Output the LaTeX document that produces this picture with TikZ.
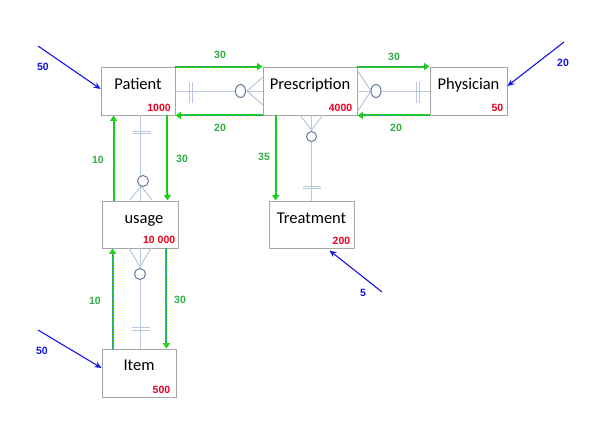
\documentclass[tikz,border=0pt]{standalone}
\usepackage{fontspec}
\setmainfont{Carlito}
\newfontfamily\numfont{Liberation Sans}
\usetikzlibrary{arrows.meta,calc}
\definecolor{boxgray}{RGB}{165,165,165}
\definecolor{numred}{RGB}{235,0,30}
\definecolor{flowgreen}{RGB}{30,210,30}
\definecolor{flowdot}{RGB}{60,100,210}
\definecolor{lblgreen}{RGB}{45,175,65}
\definecolor{inblue}{RGB}{20,20,230}
\definecolor{erline}{RGB}{185,200,222}
\definecolor{ercirc}{RGB}{100,120,155}
\tikzset{
  entity/.style={draw=boxgray, line width=0.9pt, fill=white, minimum height=48pt, inner sep=0pt},
  ename/.style={font=\fontsize{16.5}{16.5}\selectfont, inner sep=0pt, anchor=base},
  ecount/.style={font=\numfont\bfseries\fontsize{10.5}{10.5}\selectfont, text=numred, inner sep=0pt, anchor=base east},
  flow/.style={draw=flowgreen, line width=2pt, -{Triangle[length=5.5pt,width=7pt]},
    postaction={draw=flowdot, line width=0.7pt, dash pattern=on 0.7pt off 2.2pt, -, shorten >=5pt}},
  flowlbl/.style={font=\numfont\bfseries\fontsize{10.5}{10.5}\selectfont, text=lblgreen, inner sep=0pt},
  inflow/.style={draw=inblue, line width=1.1pt, -{Stealth[length=7pt,width=6pt]}},
  inlbl/.style={font=\numfont\bfseries\fontsize{10.5}{10.5}\selectfont, text=inblue, inner sep=0pt},
  erl/.style={draw=erline, line width=1pt},
  erc/.style={draw=ercirc, line width=1pt, fill=white}
}
\begin{document}
\begin{tikzpicture}[x=1pt,y=-1pt]
\useasboundingbox[fill=white] (0,0) rectangle (591,424);

% entities
\node[entity, minimum width=74pt] (Patient) at (138,91) {};
\node[entity, minimum width=94pt] (Prescription) at (310,91) {};
\node[entity, minimum width=77pt] (Physician) at (468.5,91) {};
\node[entity, minimum width=76pt, minimum height=47pt] (usage) at (140,224.5) {};
\node[entity, minimum width=85pt, minimum height=47pt] (Treatment) at (311.5,224.5) {};
\node[entity, minimum width=74pt] (Item) at (139,373) {};

% ER relationship lines
\draw[erl] (Patient.east) -- (Prescription.west);
\draw[erl] (Prescription.east) -- (Physician.west);
\draw[erl] (usage.north |- Patient.south) -- (usage.north);
\draw[erl] (usage.south) -- (usage.south |- Item.north);
\draw[erl] (Treatment.north |- Prescription.south) -- (Treatment.north);

% Patient - Prescription
\draw[erl] (189,82) -- (189,103) (192,82) -- (192,103);
\draw[erl] (263,77) -- (247,91) -- (263,105);
\draw[erc] (240.5,91) ellipse [x radius=5, y radius=6.5];
% Prescription - Physician
\draw[erl] (357,70) -- (371,91) -- (357,112);
\draw[erc] (376,91) ellipse [x radius=5, y radius=6.5];
\draw[erl] (416,82) -- (416,103) (419,82) -- (419,103);
% Patient - usage
\draw[erl] (133,131) -- (151,131) (133,133.5) -- (151,133.5);
\draw[erl] (130,200) -- (141,186) -- (152,200);
\draw[erc] (143,181) circle [radius=5.5];
% usage - Item
\draw[erl] (129,248) -- (140,267) -- (151,248);
\draw[erc] (140,274) circle [radius=5.5];
\draw[erl] (131.5,327.5) -- (150,327.5) (131.5,330.5) -- (150,330.5);
% Prescription - Treatment
\draw[erl] (300,115) -- (311.5,130) -- (323,115);
\draw[erc] (311.5,136.5) circle [radius=5];
\draw[erl] (303,186) -- (321,186) (303,188.5) -- (321,188.5);

% names
\node[ename] (nPatient) at ($(Patient.center)+(0,-2)$) {Patient};
\node[ename] (nPrescription) at ($(Prescription.center)+(0,-2)$) {Prescription};
\node[ename] (nPhysician) at ($(Physician.center)+(0,-2)$) {Physician};
\node[ename] (nusage) at ($(usage.center)+(4,-1.5)$) {usage};
\node[ename] (nTreatment) at ($(Treatment.center)+(0,-1.5)$) {Treatment};
\node[ename] (nItem) at ($(Item.center)+(0,-3)$) {Item};

% counts
\node[ecount] (cPatient) at ($(Patient.south east)+(-4.5,-4)$) {1000};
\node[ecount] (cPrescription) at ($(Prescription.south east)+(-5,-4)$) {4000};
\node[ecount] (cPhysician) at ($(Physician.south east)+(-4,-4)$) {50};
\node[ecount] (cusage) at ($(usage.south east)+(-3,-4.5)$) {10 000};
\node[ecount] (cTreatment) at ($(Treatment.south east)+(-4,-4)$) {200};
\node[ecount] (cItem) at ($(Item.south east)+(-6,-4)$) {500};

% flows
\draw[flow] (Patient.north east) -- (Prescription.north west);
\draw[flow] (Prescription.south west) -- (Patient.south east);
\draw[flow] (Prescription.north east) -- (Physician.north west);
\draw[flow] (Physician.south west) -- (Prescription.south east);
\coordinate (pu1) at ($(Patient.south west)+(13,0)$);
\coordinate (pu2) at ($(Patient.south east)+(-8,0)$);
\draw[flow] (pu1 |- usage.north) -- (pu1);
\draw[flow] (pu2) -- (pu2 |- usage.north);
\coordinate (ui1) at ($(usage.south west)+(11,0)$);
\coordinate (ui2) at ($(usage.south east)+(-12,0)$);
\draw[flow] (ui1 |- Item.north) -- (ui1);
\draw[flow] (ui2) -- (ui2 |- Item.north);
\coordinate (pt1) at ($(Prescription.south west)+(13,0)$);
\draw[flow] (pt1) -- (pt1 |- Treatment.north);

\node[flowlbl] (l1) at (220,55) {30};
\node[flowlbl] (l2) at (220,128) {20};
\node[flowlbl] (l3) at (394,57) {30};
\node[flowlbl] (l4) at (396,128) {20};
\node[flowlbl] (l5) at (98,160) {10};
\node[flowlbl] (l6) at (182,159) {30};
\node[flowlbl] (l7) at (95,301) {10};
\node[flowlbl] (l8) at (180,300) {30};
\node[flowlbl] (l9) at (264,157) {35};

% incoming
\coordinate (s1) at (38,46);
\coordinate (s2) at (564,42);
\coordinate (s3) at (382,292);
\coordinate (s4) at (38,330);
\draw[inflow] (s1) -- ([yshift=2pt]Patient.west);
\draw[inflow] (s2) -- ([yshift=5pt]Physician.east);
\draw[inflow] (s3) -- ([xshift=18pt,yshift=-2pt]Treatment.south);
\draw[inflow] (s4) -- ([yshift=5pt]Item.west);
\node[inlbl] (i1) at (43,67) {50};
\node[inlbl] (i2) at (563,63) {20};
\node[inlbl] (i3) at (363,293) {5};
\node[inlbl] (i4) at (42,351) {50};
\end{tikzpicture}
\end{document}
